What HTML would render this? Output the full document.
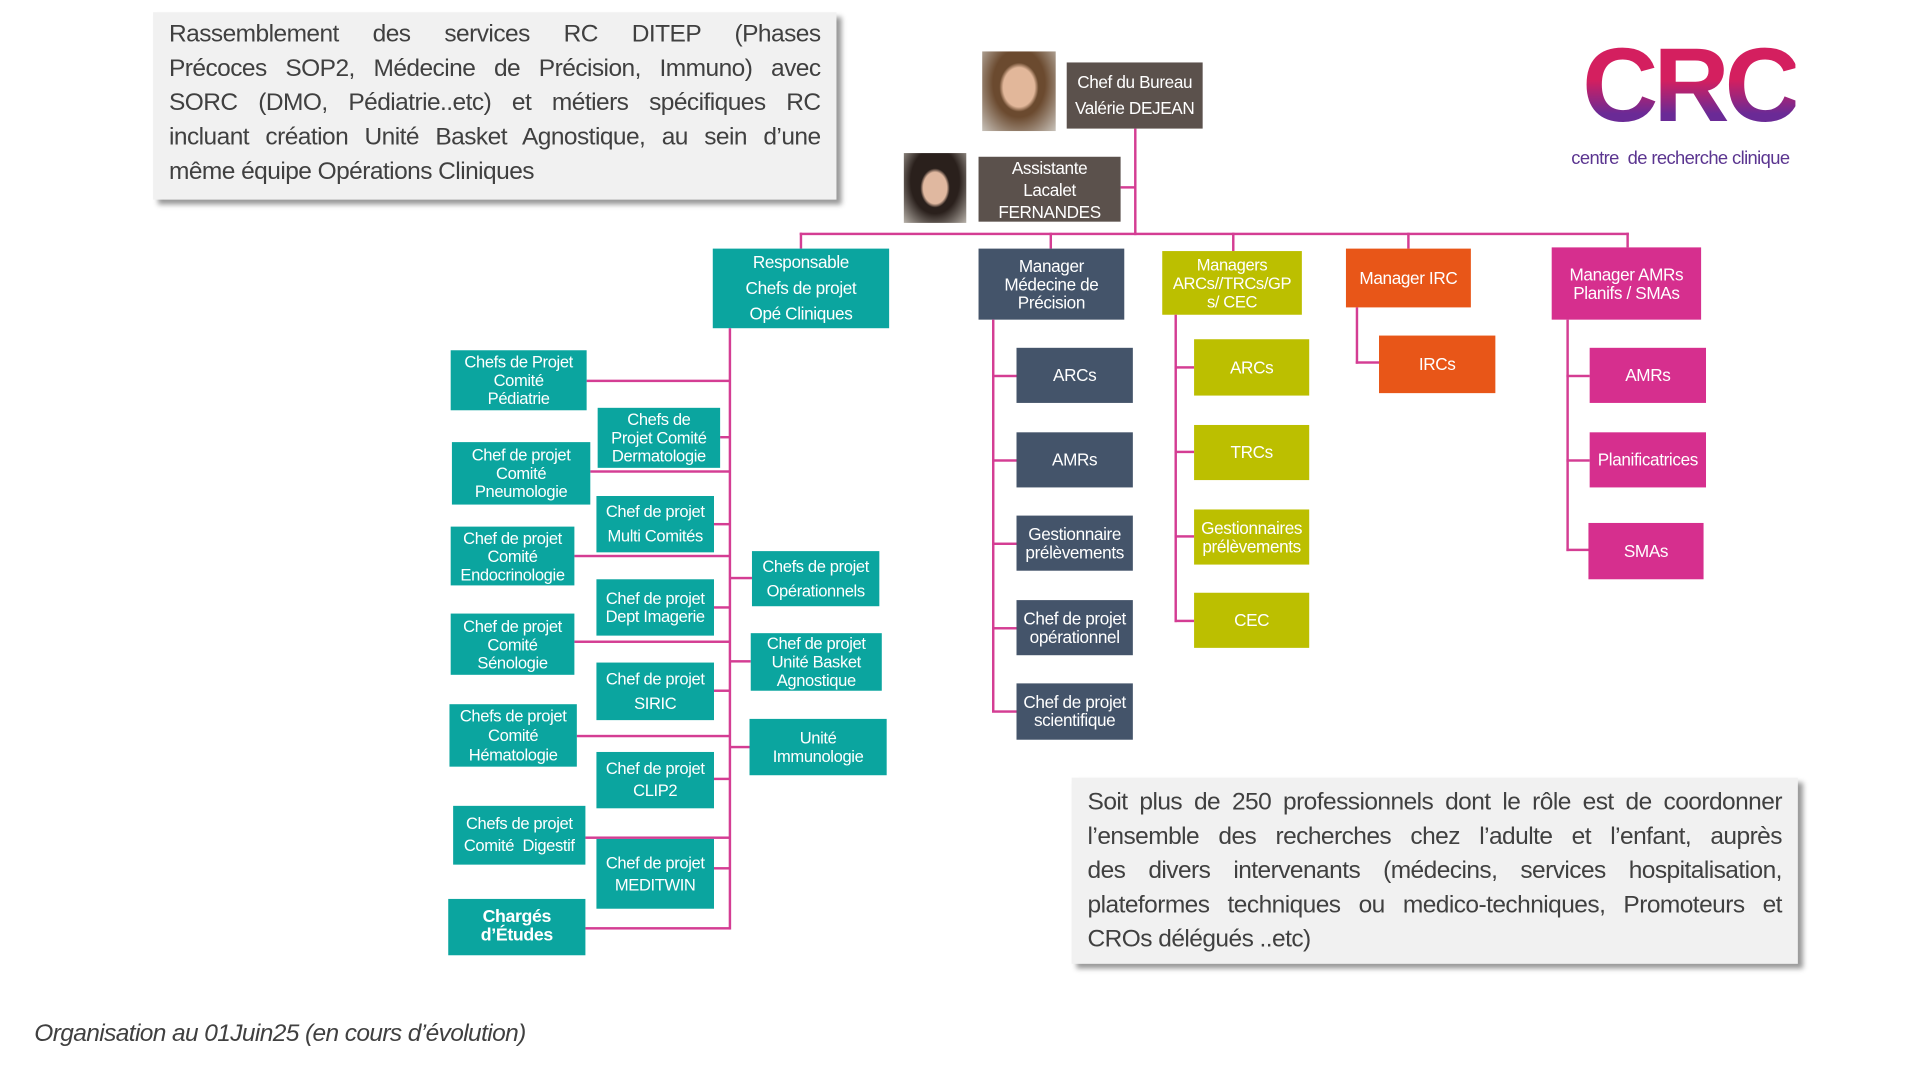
<!DOCTYPE html>
<html><head><meta charset="utf-8"><style>
html,body{margin:0;padding:0;background:#fff;width:1920px;height:1080px;overflow:hidden}
#c{position:absolute;left:0;top:0;width:1570px;height:882px;transform:scale(1.2247);transform-origin:0 0;font-family:"Liberation Sans",sans-serif}
.b{position:absolute;display:flex;align-items:center;justify-content:center;text-align:center;color:#fff;font-size:13.5px;line-height:15px;letter-spacing:-0.3px;overflow:hidden;white-space:nowrap}
.t{background:#0ba59f}.s{background:#44546a}.y{background:#bcbf00}.o{background:#e85618}.m{background:#d62f8e}.g{background:#5b514c}
.h{position:absolute;background:#d43d93;height:2px}
.v{position:absolute;background:#d43d93;width:2px}
.note{position:absolute;background:#f1f1f1;box-shadow:4px 4px 4px #999;color:#404040;font-size:20px;line-height:28px;letter-spacing:-0.45px;padding:4px 13px;box-sizing:border-box;white-space:nowrap}
.note div{text-align:justify;text-align-last:justify}
.note div.l{text-align-last:left}
</style></head><body><div id="c">
<div class="note" style="left:125px;top:10px;width:558px;height:153px"><div>Rassemblement des services RC DITEP (Phases</div><div>Précoces SOP2, Médecine de Précision, Immuno) avec</div><div>SORC (DMO, Pédiatrie..etc) et métiers spécifiques RC</div><div>incluant création Unité Basket Agnostique, au sein d’une</div><div class="l">même équipe Opérations Cliniques</div></div>
<div class="note" style="left:875px;top:635px;width:593px;height:152px;padding-top:6px"><div>Soit plus de 250 professionnels dont le rôle est de coordonner</div><div>l’ensemble des recherches chez l’adulte et l’enfant, auprès</div><div>des divers intervenants (médecins, services hospitalisation,</div><div>plateformes techniques ou medico-techniques, Promoteurs et</div><div class="l">CROs délégués ..etc)</div></div>
<div style="position:absolute;left:28px;top:833px;font-size:20px;font-style:italic;color:#404040;letter-spacing:-0.5px">Organisation au 01Juin25 (en cours d’évolution)</div>

<!-- logo -->
<div style="position:absolute;left:1292px;top:24px;font-size:86px;font-weight:bold;line-height:92px;letter-spacing:-4px;background:linear-gradient(#d41f5f 45%,#6a2a96 75%);-webkit-background-clip:text;background-clip:text;color:transparent">CRC</div>
<div style="position:absolute;left:1283px;top:121px;font-size:15px;color:#5b3590;letter-spacing:-0.5px">centre&nbsp; de recherche clinique</div>

<!-- photos -->
<div style="position:absolute;left:802px;top:42px;width:60px;height:65px;background:radial-gradient(ellipse 16px 20px at 50% 45%,#e2b79a 80%,transparent 100%),radial-gradient(ellipse at 50% 40%,#6b4a2f 50%,#c9c3bb 100%)"></div>
<div style="position:absolute;left:738px;top:125px;width:51px;height:57px;background:radial-gradient(ellipse 12px 16px at 50% 50%,#e0b8a0 80%,transparent 100%),radial-gradient(ellipse at 50% 40%,#2a201c 55%,#b8b2aa 100%)"></div>

<div class="b g" style="left:871px;top:51px;width:111px;height:54px;line-height:21px;font-size:14px">Chef du Bureau<br>Valérie DEJEAN</div>
<div class="b g" style="left:799px;top:128px;width:116px;height:53px;line-height:18px;font-size:14px">Assistante<br>Lacalet<br>FERNANDES</div>

<!-- top connectors -->
<div class="v" style="left:926px;top:105px;height:87px"></div>
<div class="h" style="left:915px;top:152px;width:12px"></div>
<div class="h" style="left:653px;top:190px;width:677px"></div>
<div class="v" style="left:653px;top:190px;height:13px"></div>
<div class="v" style="left:857px;top:190px;height:13px"></div>
<div class="v" style="left:1006px;top:190px;height:15px"></div>
<div class="v" style="left:1149px;top:190px;height:13px"></div>
<div class="v" style="left:1328px;top:190px;height:12px"></div>

<div class="b t" style="left:582px;top:203px;width:144px;height:65px;line-height:21px;font-size:14px">Responsable<br>Chefs de projet<br>Opé Cliniques</div>
<div class="b s" style="left:799px;top:203px;width:119px;height:58px;font-size:14px">Manager<br>Médecine de<br>Précision</div>
<div class="b y" style="left:949px;top:205px;width:114px;height:52px">Managers<br>ARCs//TRCs/GP<br>s/ CEC</div>
<div class="b o" style="left:1099px;top:203px;width:102px;height:48px;font-size:14px">Manager IRC</div>
<div class="b m" style="left:1267px;top:202px;width:122px;height:59px;font-size:14px">Manager AMRs<br>Planifs / SMAs</div>

<!-- med column -->
<div class="v" style="left:810px;top:261px;height:320px"></div>
<div class="h" style="left:810px;top:306px;width:20px"></div>
<div class="h" style="left:810px;top:375px;width:20px"></div>
<div class="h" style="left:810px;top:443px;width:20px"></div>
<div class="h" style="left:810px;top:512px;width:20px"></div>
<div class="h" style="left:810px;top:580px;width:20px"></div>
<div class="b s" style="left:830px;top:284px;width:95px;height:45px;font-size:14px">ARCs</div>
<div class="b s" style="left:830px;top:353px;width:95px;height:45px;font-size:14px">AMRs</div>
<div class="b s" style="left:830px;top:421px;width:95px;height:45px;font-size:14px">Gestionnaire<br>prélèvements</div>
<div class="b s" style="left:830px;top:490px;width:95px;height:45px;font-size:14px">Chef de projet<br>opérationnel</div>
<div class="b s" style="left:830px;top:558px;width:95px;height:46px;font-size:14px">Chef de projet<br>scientifique</div>

<!-- yellow column -->
<div class="v" style="left:959px;top:257px;height:251px"></div>
<div class="h" style="left:959px;top:299px;width:16px"></div>
<div class="h" style="left:959px;top:368px;width:16px"></div>
<div class="h" style="left:959px;top:437px;width:16px"></div>
<div class="h" style="left:959px;top:506px;width:16px"></div>
<div class="b y" style="left:975px;top:277px;width:94px;height:46px;font-size:14px">ARCs</div>
<div class="b y" style="left:975px;top:347px;width:94px;height:45px;font-size:14px">TRCs</div>
<div class="b y" style="left:975px;top:416px;width:94px;height:45px;font-size:14px">Gestionnaires<br>prélèvements</div>
<div class="b y" style="left:975px;top:484px;width:94px;height:45px;font-size:14px">CEC</div>

<!-- IRC -->
<div class="v" style="left:1107px;top:251px;height:46px"></div>
<div class="h" style="left:1107px;top:295px;width:19px"></div>
<div class="b o" style="left:1126px;top:274px;width:95px;height:47px;font-size:14px">IRCs</div>

<!-- AMRs -->
<div class="v" style="left:1279px;top:261px;height:189px"></div>
<div class="h" style="left:1279px;top:306px;width:19px"></div>
<div class="h" style="left:1279px;top:375px;width:19px"></div>
<div class="h" style="left:1279px;top:448px;width:19px"></div>
<div class="b m" style="left:1298px;top:284px;width:95px;height:45px;font-size:14px">AMRs</div>
<div class="b m" style="left:1298px;top:353px;width:95px;height:45px;font-size:14px">Planificatrices</div>
<div class="b m" style="left:1297px;top:427px;width:94px;height:46px;font-size:14px">SMAs</div>

<!-- teal -->
<div class="v" style="left:595px;top:268px;height:491px"></div>
<div class="h" style="left:479px;top:310px;width:117px"></div>
<div class="h" style="left:482px;top:384px;width:114px"></div>
<div class="h" style="left:469px;top:453px;width:127px"></div>
<div class="h" style="left:469px;top:523px;width:127px"></div>
<div class="h" style="left:471px;top:600px;width:125px"></div>
<div class="h" style="left:478px;top:683px;width:118px"></div>
<div class="h" style="left:478px;top:757px;width:118px"></div>
<div class="h" style="left:588px;top:356px;width:8px"></div>
<div class="h" style="left:583px;top:427px;width:13px"></div>
<div class="h" style="left:583px;top:495px;width:13px"></div>
<div class="h" style="left:583px;top:563px;width:13px"></div>
<div class="h" style="left:583px;top:635px;width:13px"></div>
<div class="h" style="left:583px;top:708px;width:13px"></div>
<div class="h" style="left:596px;top:471px;width:18px"></div>
<div class="h" style="left:596px;top:539px;width:17px"></div>
<div class="h" style="left:596px;top:609px;width:16px"></div>

<div class="b t" style="left:368px;top:286px;width:111px;height:49px">Chefs de Projet<br>Comité<br>Pédiatrie</div>
<div class="b t" style="left:369px;top:361px;width:113px;height:51px">Chef de projet<br>Comité<br>Pneumologie</div>
<div class="b t" style="left:368px;top:430px;width:101px;height:48px">Chef de projet<br>Comité<br>Endocrinologie</div>
<div class="b t" style="left:368px;top:501px;width:101px;height:50px">Chef de projet<br>Comité<br>Sénologie</div>
<div class="b t" style="left:367px;top:575px;width:104px;height:51px;line-height:16px">Chefs de projet<br>Comité<br>Hématologie</div>
<div class="b t" style="left:370px;top:658px;width:108px;height:48px;line-height:18px">Chefs de projet<br>Comité&nbsp; Digestif</div>
<div class="b t" style="left:366px;top:734px;width:112px;height:46px;font-size:14.5px;font-weight:bold">Chargés<br>d’Études</div>

<div class="b t" style="left:488px;top:333px;width:100px;height:49px">Chefs de<br>Projet Comité<br>Dermatologie</div>
<div class="b t" style="left:487px;top:405px;width:96px;height:46px;line-height:20px">Chef de projet<br>Multi Comités</div>
<div class="b t" style="left:487px;top:473px;width:96px;height:46px">Chef de projet<br>Dept Imagerie</div>
<div class="b t" style="left:487px;top:541px;width:96px;height:47px;line-height:20px">Chef de projet<br>SIRIC</div>
<div class="b t" style="left:487px;top:614px;width:96px;height:46px;line-height:18px">Chef de projet<br>CLIP2</div>
<div class="b t" style="left:487px;top:685px;width:96px;height:57px;line-height:18px">Chef de projet<br>MEDITWIN</div>

<div class="b t" style="left:614px;top:450px;width:104px;height:45px;line-height:20px">Chefs de projet<br>Opérationnels</div>
<div class="b t" style="left:613px;top:517px;width:107px;height:47px">Chef de projet<br>Unité Basket<br>Agnostique</div>
<div class="b t" style="left:612px;top:587px;width:112px;height:46px">Unité<br>Immunologie</div>
</div></body></html>
